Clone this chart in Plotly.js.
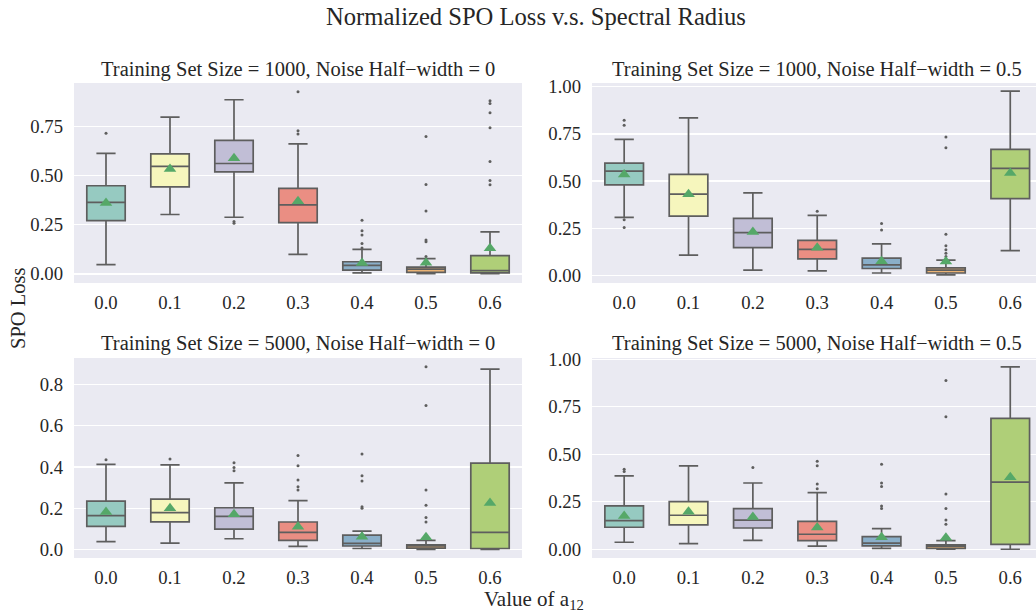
<!DOCTYPE html>
<html>
<head>
<meta charset="utf-8">
<script src="https://cdn.plot.ly/plotly-3.0.1.min.js"></script>
<style>html,body{margin:0;padding:0;background:#fff;}#chart{width:1036px;height:612px;}</style>
</head>
<body>
<div id="chart"></div>
<script>
// ---------- data ----------
const categories = ['0.0','0.1','0.2','0.3','0.4','0.5','0.6'];
const boxColors = ['#96cac1','#f6f6bd','#c1bed6','#ea8e83','#8aafc9','#eab375','#afcf78'];

// Panel A: Training Set Size = 1000, Noise Half-width = 0
const a_lo   = [0.047, 0.302, 0.288, 0.099, 0.005, 0.002, 0.002];
const a_q1   = [0.271, 0.442, 0.519, 0.261, 0.019, 0.008, 0.005];
const a_med  = [0.364, 0.546, 0.561, 0.351, 0.044, 0.024, 0.017];
const a_q3   = [0.448, 0.610, 0.679, 0.435, 0.062, 0.035, 0.093];
const a_hi   = [0.613, 0.797, 0.885, 0.661, 0.125, 0.078, 0.214];
const a_mean = [0.360, 0.533, 0.588, 0.369, 0.056, 0.057, 0.131];
const a_outX = [0, 2, 2, 3, 3, 3, 4, 4, 4, 4, 4, 5, 5, 5, 5, 5, 5, 6, 6, 6, 6, 6, 6, 6];
const a_outY = [0.715, 0.266, 0.258, 0.925, 0.728, 0.711, 0.273, 0.220, 0.198, 0.155, 0.132, 0.698, 0.455, 0.320, 0.172, 0.163, 0.088, 0.880, 0.866, 0.819, 0.743, 0.571, 0.475, 0.453];

// Panel B: Training Set Size = 1000, Noise Half-width = 0.5
const b_lo   = [0.307, 0.107, 0.027, 0.023, 0.012, 0.002, 0.131];
const b_q1   = [0.480, 0.314, 0.147, 0.087, 0.036, 0.012, 0.407];
const b_med  = [0.552, 0.430, 0.226, 0.137, 0.055, 0.027, 0.567];
const b_q3   = [0.595, 0.535, 0.302, 0.185, 0.091, 0.039, 0.668];
const b_hi   = [0.721, 0.835, 0.437, 0.318, 0.167, 0.080, 0.977];
const b_mean = [0.535, 0.430, 0.229, 0.146, 0.075, 0.073, 0.542];
const b_outX = [0, 0, 0, 0, 3, 4, 4, 5, 5, 5, 5, 5, 5, 5];
const b_outY = [0.822, 0.796, 0.295, 0.254, 0.339, 0.275, 0.240, 0.734, 0.677, 0.218, 0.156, 0.135, 0.117, 0.100];

// Panel C: Training Set Size = 5000, Noise Half-width = 0
const c_lo   = [0.039, 0.032, 0.053, 0.016, 0.006, 0.002, 0.002];
const c_q1   = [0.113, 0.135, 0.100, 0.045, 0.018, 0.008, 0.006];
const c_med  = [0.165, 0.179, 0.161, 0.084, 0.031, 0.018, 0.084];
const c_q3   = [0.235, 0.245, 0.203, 0.134, 0.071, 0.024, 0.419];
const c_hi   = [0.413, 0.410, 0.323, 0.237, 0.090, 0.045, 0.873];
const c_mean = [0.182, 0.200, 0.171, 0.111, 0.063, 0.060, 0.226];
const c_outX = [0, 1, 2, 2, 2, 3, 3, 3, 3, 3, 4, 4, 4, 4, 4, 5, 5, 5, 5, 5, 5];
const c_outY = [0.435, 0.439, 0.421, 0.397, 0.382, 0.456, 0.406, 0.337, 0.305, 0.289, 0.463, 0.358, 0.332, 0.208, 0.200, 0.885, 0.697, 0.289, 0.215, 0.156, 0.134];

// Panel D: Training Set Size = 5000, Noise Half-width = 0.5
const d_lo   = [0.037, 0.030, 0.047, 0.016, 0.005, 0.000, 0.000];
const d_q1   = [0.116, 0.128, 0.112, 0.046, 0.018, 0.005, 0.026];
const d_med  = [0.151, 0.179, 0.153, 0.079, 0.032, 0.016, 0.353];
const d_q3   = [0.228, 0.251, 0.214, 0.147, 0.067, 0.023, 0.689];
const d_hi   = [0.386, 0.439, 0.349, 0.298, 0.109, 0.046, 0.960];
const d_mean = [0.175, 0.198, 0.170, 0.114, 0.063, 0.060, 0.379];
const d_outX = [0, 0, 2, 3, 3, 3, 3, 4, 4, 4, 4, 4, 5, 5, 5, 5, 5, 5];
const d_outY = [0.421, 0.409, 0.430, 0.463, 0.440, 0.344, 0.318, 0.447, 0.349, 0.330, 0.228, 0.214, 0.888, 0.698, 0.291, 0.214, 0.154, 0.132];

const panelTitles = [
  'Training Set Size = 1000, Noise Half\u2212width = 0',
  'Training Set Size = 1000, Noise Half\u2212width = 0.5',
  'Training Set Size = 5000, Noise Half\u2212width = 0',
  'Training Set Size = 5000, Noise Half\u2212width = 0.5'
];
const mainTitle = 'Normalized SPO Loss v.s. Spectral Radius';
const yLabel = 'SPO Loss';
const xLabel = 'Value of a<sub>12</sub>';

// ---------- build ----------
const W = 1036, H = 612;
const FONT = 'Liberation Serif';
const TXT = '#262626';
const LINE = '#5e5e5e';
const MEANC = '#55a868';

const panels = [
  {lo:a_lo,q1:a_q1,med:a_med,q3:a_q3,hi:a_hi,mean:a_mean,ox:a_outX,oy:a_outY,xa:'x',ya:'y'},
  {lo:b_lo,q1:b_q1,med:b_med,q3:b_q3,hi:b_hi,mean:b_mean,ox:b_outX,oy:b_outY,xa:'x2',ya:'y2'},
  {lo:c_lo,q1:c_q1,med:c_med,q3:c_q3,hi:c_hi,mean:c_mean,ox:c_outX,oy:c_outY,xa:'x3',ya:'y3'},
  {lo:d_lo,q1:d_q1,med:d_med,q3:d_q3,hi:d_hi,mean:d_mean,ox:d_outX,oy:d_outY,xa:'x4',ya:'y4'}
];

const idx = categories.map((c,i)=>i);
const traces = [];
panels.forEach(p => {
  idx.forEach(i => {
    traces.push({
      type:'box', x:[i], q1:[p.q1[i]], median:[p.med[i]], q3:[p.q3[i]],
      lowerfence:[p.lo[i]], upperfence:[p.hi[i]],
      width:0.6, whiskerwidth:0.5, boxpoints:false,
      fillcolor:boxColors[i], line:{color:LINE, width:1.7},
      xaxis:p.xa, yaxis:p.ya, showlegend:false, hoverinfo:'skip'
    });
  });
  traces.push({
    type:'scatter', mode:'markers', x:p.ox, y:p.oy,
    marker:{size:3, color:LINE}, xaxis:p.xa, yaxis:p.ya, showlegend:false, hoverinfo:'skip'
  });
  traces.push({
    type:'scatter', mode:'markers', x:idx, y:p.mean,
    marker:{symbol:'triangle-up', size:11, color:MEANC}, xaxis:p.xa, yaxis:p.ya, showlegend:false, hoverinfo:'skip'
  });
});

function px(a,b){return [a/W, b/W];}
function py(top,bot){return [1-bot/H, 1-top/H];}

const tickFont = {family:FONT, size:18.7, color:TXT};
function xaxis(dom, rng){
  return {domain:dom, range:rng, tickvals:idx, ticktext:categories, showgrid:false, zeroline:false,
    showline:false, ticks:'', tickfont:tickFont, ticklabelstandoff:6, fixedrange:true};
}
function yaxis(dom, rng, tv, tt){
  return {domain:dom, range:rng, tickvals:tv, ticktext:tt, showgrid:true, gridcolor:'#ffffff', gridwidth:1.3,
    zeroline:false, showline:false, ticks:'', tickfont:tickFont, ticklabelstandoff:10, fixedrange:true};
}
const t4 = [0,0.25,0.5,0.75], t4l=['0.00','0.25','0.50','0.75'];
const t5 = [0,0.25,0.5,0.75,1.0], t5l=['0.00','0.25','0.50','0.75','1.00'];
const t8 = [0,0.2,0.4,0.6,0.8], t8l=['0.0','0.2','0.4','0.6','0.8'];

const leftX = px(74,522), rightX = px(592,1036);
const topY = py(83,283), botY = py(358,558);

const titleY = [69, 69, 343, 343];
const titleX = [298, 817, 298, 817];

const annotations = panelTitles.map((t,k)=>({
  text:t, xref:'paper', yref:'paper', x:titleX[k]/W, y:1-titleY[k]/H, xanchor:'center', yanchor:'middle',
  showarrow:false, font:{family:FONT, size:20.5, color:TXT}
}));
annotations.push({text:mainTitle, xref:'paper', yref:'paper', x:536/W, y:1-16/H, xanchor:'center', yanchor:'middle',
  showarrow:false, font:{family:FONT, size:24.6, color:TXT}});
annotations.push({text:yLabel, xref:'paper', yref:'paper', x:18/W, y:1-309/H, xanchor:'center', yanchor:'middle',
  textangle:-90, showarrow:false, font:{family:FONT, size:20.5, color:TXT}});
annotations.push({text:xLabel, xref:'paper', yref:'paper', x:534/W, y:1-600/H, xanchor:'center', yanchor:'middle',
  showarrow:false, font:{family:FONT, size:21, color:TXT}});

const layout = {
  width:W, height:H, margin:{l:0,r:0,t:0,b:0}, paper_bgcolor:'#ffffff', plot_bgcolor:'#eaeaf2',
  showlegend:false, boxmode:'overlay', font:{family:FONT, color:TXT},
  xaxis: Object.assign(xaxis(leftX,[-0.5,6.5]), {anchor:'y'}),
  yaxis: Object.assign(yaxis(topY,[-0.046,0.97],t4,t4l), {anchor:'x'}),
  xaxis2: Object.assign(xaxis(rightX,[-0.5,6.4]), {anchor:'y2'}),
  yaxis2: Object.assign(yaxis(topY,[-0.041,1.02],t5,t5l), {anchor:'x2'}),
  xaxis3: Object.assign(xaxis(leftX,[-0.5,6.5]), {anchor:'y3'}),
  yaxis3: Object.assign(yaxis(botY,[-0.040,0.927],t8,t8l), {anchor:'x3'}),
  xaxis4: Object.assign(xaxis(rightX,[-0.5,6.4]), {anchor:'y4'}),
  yaxis4: Object.assign(yaxis(botY,[-0.046,1.007],t5,t5l), {anchor:'x4'}),
  annotations: annotations
};

Plotly.newPlot('chart', traces, layout, {displayModeBar:false, staticPlot:true});
</script>
</body>
</html>
